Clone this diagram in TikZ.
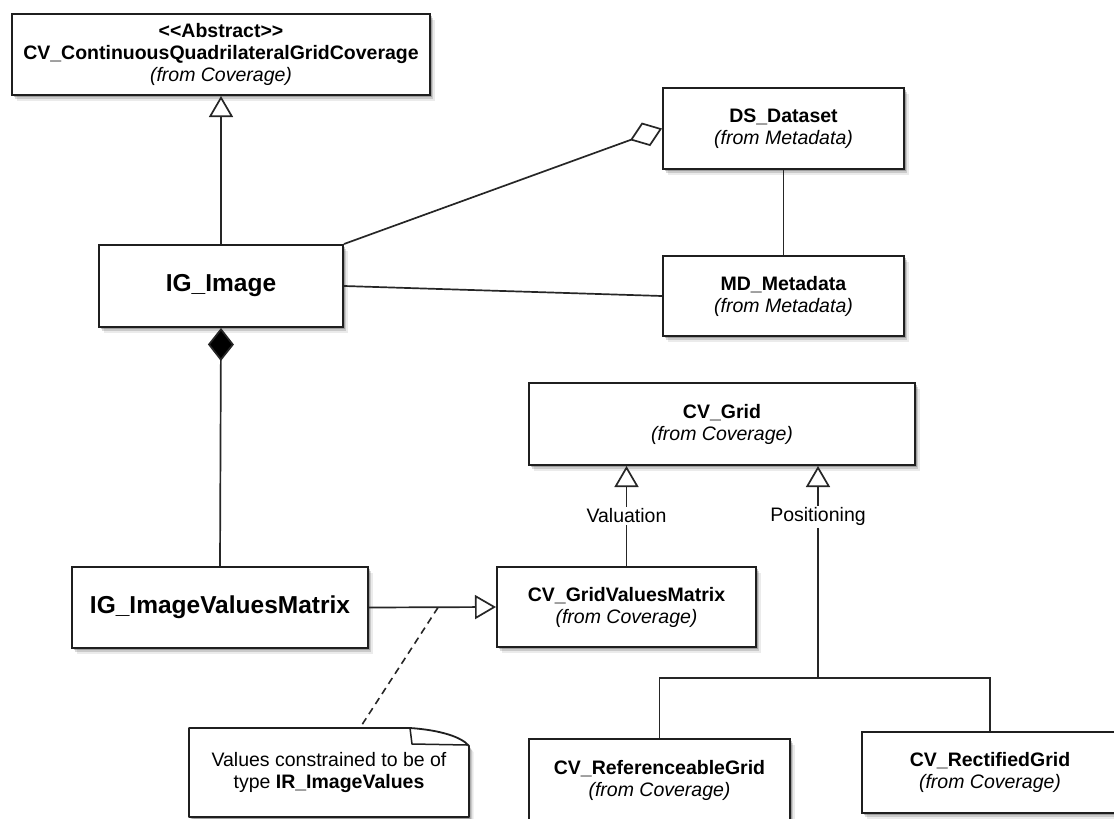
\documentclass[tikz,border=0pt]{standalone}
\usepackage{fontspec}
\setmainfont{Liberation Sans}
\usetikzlibrary{arrows.meta,shadows,calc}

\begin{document}
\begin{tikzpicture}[x=1pt,y=-1pt,
  softshadow/.style={
    drop shadow={shadow xshift=1.5pt,shadow yshift=-2pt,opacity=.22,fill=black},
    drop shadow={shadow xshift=3pt,shadow yshift=-4pt,opacity=.14,fill=black},
    drop shadow={shadow xshift=4.5pt,shadow yshift=-6pt,opacity=.08,fill=black}},
  txt/.style={font=\fontsize{19.5}{22}\selectfont},
  cls/.style={rectangle, draw=black!88, line width=2pt, fill=white,
    align=center, inner sep=0pt, txt, softshadow},
  big/.style={font=\fontsize{24.5}{28}\selectfont\bfseries},
  link/.style={draw=black!85, line width=1.7pt},
  gen/.style={link, -{Triangle[length=21pt,width=24pt,fill=white]}},
  agg/.style={link, -{Diamond[length=34pt,width=25pt,fill=white]}},
  comp/.style={link, -{Diamond[length=33pt,width=26pt,fill=black]}},
  lbl/.style={fill=white, inner sep=2pt, txt},
  notebox/.style={draw=black!88, line width=1.8pt, fill=white, line join=round, softshadow},
  noteline/.style={draw=black!85, line width=1.6pt, dash pattern=on 7pt off 5pt}
]
\useasboundingbox (0,0) rectangle (1114,819);

% classes
\node[cls, minimum width=418pt, minimum height=81pt] (abs) at (221,54.5)
  {\textbf{<\kern0pt<Abstract>\kern0pt>}\\\textbf{CV\_ContinuousQuadrilateralGridCoverage}\\\textit{(from Coverage)}};
\node[cls, minimum width=241pt, minimum height=81pt] (ds) at (783.5,128.5)
  {\textbf{DS\_Dataset}\\\textit{(from Metadata)}};
\node[cls, minimum width=241pt, minimum height=80pt] (md) at (783.5,296)
  {\textbf{MD\_Metadata}\\\textit{(from Metadata)}};
\node[cls, big, minimum width=244pt, minimum height=82pt] (img) at (221,286) {IG\_Image};
\node[cls, big, minimum width=296pt, minimum height=81pt] (ivm) at (220,607.5) {IG\_ImageValuesMatrix};
\node[cls, minimum width=386pt, minimum height=82pt] (grid) at (722,424)
  {\textbf{CV\_Grid}\\\textit{(from Coverage)}};
\node[cls, minimum width=259pt, minimum height=80pt] (gvm) at (626.5,607)
  {\textbf{CV\_GridValuesMatrix}\\\textit{(from Coverage)}};
\node[cls, minimum width=261pt, minimum height=83pt] (ref) at (659.5,780.5)
  {\textbf{CV\_ReferenceableGrid}\\\textit{(from Coverage)}};
\node[cls, minimum width=256pt, minimum height=81pt] (rect) at (990,772.5)
  {\textbf{CV\_RectifiedGrid}\\\textit{(from Coverage)}};

% note with folded corner
\path[notebox] (329.5,817) -- (189,817) -- (189,728) -- (410,728)
  .. controls (440,730) and (462,737) .. (469,746) -- (469,817) -- cycle;
\draw[draw=black!88, line width=1.5pt, line join=round] (410,728) -- (412,744) -- (467,745);
\node[txt, align=center, minimum width=281pt, minimum height=89pt, inner sep=0pt] (note) at (329,772.5)
  {Values constrained to be of\\type \textbf{IR\_ImageValues}};

% relationships
\draw[gen] (img.north) -- (abs.south);
\draw[agg] (img.north east) -- (ds.west);
\draw[link] (img.east) -- (md.west);
\draw[link] (ds.south) -- (md.north);
\draw[comp] (ivm.north) -- (img.south);
\draw[gen] (ivm.east) -- (gvm.west);

\draw[gen] (gvm.north) -- node[lbl, pos=.5] (valn) {Valuation} (gvm.north |- grid.south);

\coordinate (pj) at (818,678);
\draw[gen] (pj) -- node[lbl, pos=.76] (posn) {Positioning} (pj |- grid.south);
\draw[link] (ref.north) |- (pj) -| (rect.north);

% constraint anchor on the generalization line
\coordinate (anc) at (438,607.5);
\draw[noteline] (anc) -- ($(note.north west)+(173,-2)$);
\end{tikzpicture}
\end{document}
